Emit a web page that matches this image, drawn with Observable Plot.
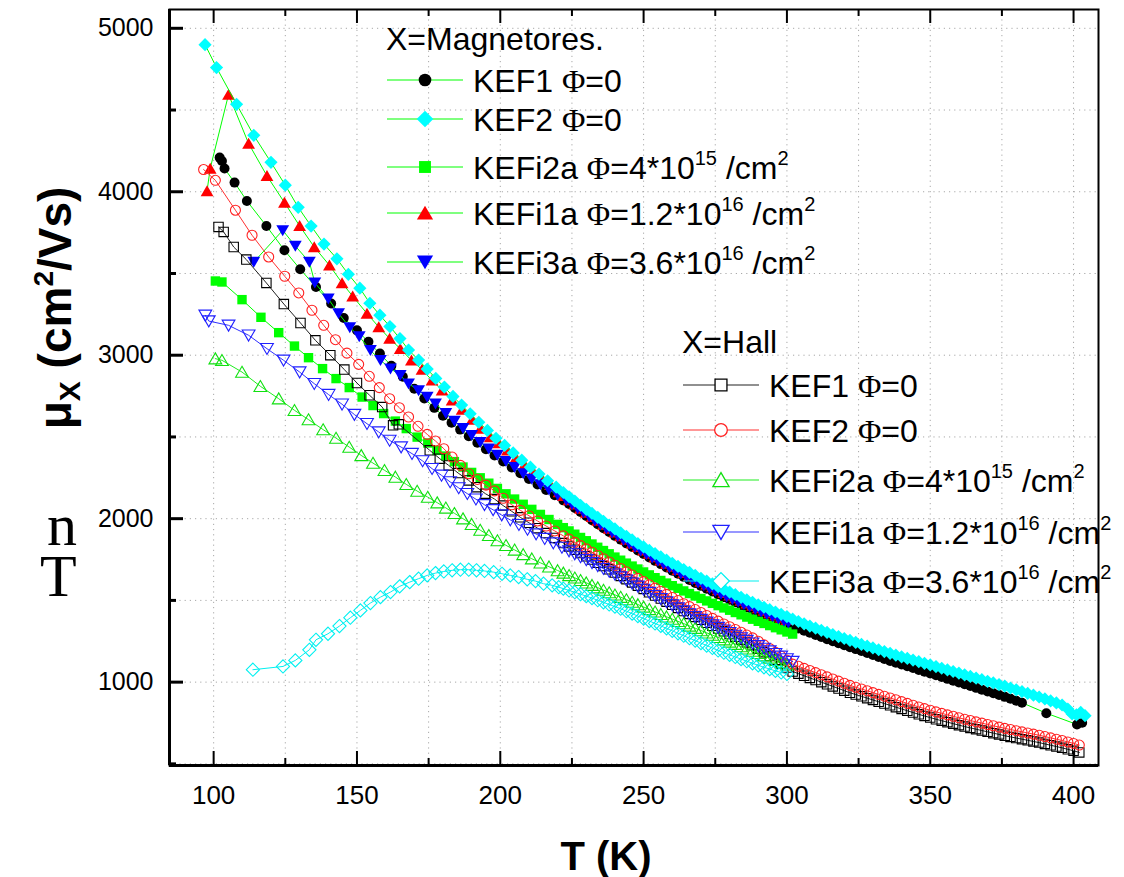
<!DOCTYPE html>
<html>
<head>
<meta charset="utf-8">
<script src="https://cdn.jsdelivr.net/npm/d3@7"></script>
<script src="https://cdn.jsdelivr.net/npm/@observablehq/plot@0.6"></script>
<style>
  html, body { margin: 0; padding: 0; background: #fff; }
  #chart { width: 1124px; height: 877px; overflow: hidden; }
</style>
</head>
<body>
<div id="chart"></div>
<script>
// Mobility vs temperature: magnetoresistance mobility (filled symbols) and Hall mobility (open symbols)
// Each series: [T (K), mobility (cm^2/Vs)]

const magKEF1 = [[102.1,4209],[102.9,4188],[103.8,4142],[107.3,4056],[111.6,3944],[118.4,3791],[124.7,3642],[130.2,3526],[135.7,3417],[141,3316],[145.4,3228],[150,3152],[154,3082],[158,3010],[162,2935],[166,2868],[170,2795],[173.5,2735],[177,2678],[180,2630],[183,2587],[186,2545],[189,2504],[192,2464],[195,2425],[198,2387],[201,2350],[204,2313],[207,2278],[210,2243],[213,2209],[216,2176],[219,2144],[222,2112],[224,2090],[226,2066],[228,2041],[230,2016],[232,1991],[234,1966],[236,1942],[238,1918],[240,1895],[242,1872],[244,1849],[246,1827],[248,1805],[250,1784],[252,1763],[254,1742],[256,1722],[258,1702],[260,1682],[262,1663],[264,1644],[266,1625],[268,1607],[270,1589],[272,1571],[274,1554],[276,1537],[278,1520],[280,1504],[282,1488],[284,1472],[286,1457],[288,1442],[290,1427],[292,1412],[294,1398],[296,1384],[298,1370],[300,1356],[302,1342],[304,1328],[306,1315],[308,1302],[310,1289],[312,1276],[314,1263],[316,1250],[318,1238],[320,1226],[322,1214],[324,1202],[326,1190],[328,1178],[330,1166],[332,1154],[334,1142],[336,1130],[338,1119],[340,1108],[342,1097],[344,1086],[346,1075],[348,1064],[350,1053],[352,1042],[354,1031],[356,1020],[358,1009],[360,998],[362,987],[364,976],[366,965],[368,954],[370,943],[372,932],[374,921],[376,910],[378,898],[380,886],[382,874],[390.5,810],[401.2,741],[403,752]];

const magKEF2 = [[97,4900],[101,4760],[108,4535],[114,4345],[120,4180],[125,4040],[129.5,3905],[134,3790],[138.5,3680],[143,3590],[147,3495],[151,3410],[154.5,3318],[158,3245],[161.5,3175],[165,3102],[168,3032],[171.5,2970],[174.5,2915],[177.5,2858],[180.5,2805],[183.5,2748],[186.5,2695],[189.5,2642],[192.5,2590],[195.5,2540],[198.5,2492],[201.5,2448],[204.5,2402],[207.5,2358],[210.5,2315],[213.5,2273],[216.5,2232],[219.5,2193],[222,2160],[224,2134],[226,2108],[228,2082],[230,2057],[232,2032],[234,2008],[236,1984],[238,1960],[240,1937],[242,1914],[244,1892],[246,1870],[248,1848],[250,1827],[252,1806],[254,1786],[256,1766],[258,1746],[260,1727],[262,1708],[264,1689],[266,1671],[268,1653],[270,1635],[272,1618],[274,1601],[276,1584],[278,1567],[280,1551],[282,1535],[284,1519],[286,1503],[288,1488],[290,1473],[292,1458],[294,1443],[296,1429],[298,1415],[300,1401],[302,1385],[304,1371],[306,1357],[308,1343],[310,1330],[312,1317],[314,1304],[316,1291],[318,1279],[320,1267],[322,1255],[324,1243],[326,1231],[328,1220],[330,1209],[332,1198],[334,1187],[336,1176],[338,1165],[340,1155],[342,1145],[344,1135],[346,1125],[348,1115],[350,1105],[352,1095],[354,1085],[356,1075],[358,1065],[360,1055],[362,1045],[364,1035],[366,1025],[368,1015],[370,1005],[372,995],[374,985],[376,975],[378,964],[380,953],[382,942],[384,931],[386,920],[388,909],[390,897],[392,885],[394,873],[396,860],[398,835],[399.5,805],[401,800],[402.5,815],[404,795]];

const magKEFi2a = [[100.6,3454],[102.9,3448],[109.9,3340],[116.5,3232],[122.7,3138],[128.2,3056],[133.1,2985],[138,2918],[142.7,2857],[147.3,2802],[151.8,2744],[155.6,2692],[159.3,2643],[163.4,2597],[167.2,2551],[171,2499],[174.7,2463],[177.9,2418],[181,2383],[184,2349],[187,2316],[190,2283],[193,2250],[196,2217],[199,2185],[202,2152],[205,2120],[208,2088],[211,2057],[214,2026],[217,1995],[220,1965],[222,1945],[224,1925],[226,1905],[228,1885],[230,1865],[232,1845],[234,1825],[236,1805],[238,1785],[240,1765],[242,1746],[244,1728],[246,1710],[248,1692],[250,1674],[252,1656],[254,1639],[256,1622],[258,1606],[260,1590],[262,1574],[264,1558],[266,1542],[268,1527],[270,1512],[272,1497],[274,1482],[276,1468],[278,1454],[280,1440],[282,1426],[284,1412],[286,1398],[288,1385],[290,1372],[292,1359],[294,1346],[296,1333],[298,1320],[300,1307],[302,1294]];

const magKEFi1a = [[97.7,4005],[98.8,4142],[105.2,4595],[112.2,4295],[118.6,4097],[124.7,3934],[130,3791],[135.1,3662],[140.4,3550],[144.8,3442],[148.5,3361],[153.5,3255],[157.6,3173],[161.4,3102],[165.1,3040],[169,2969],[172.7,2912],[176.2,2846],[179.7,2785],[183.2,2724],[186.7,2667],[190.2,2606],[193.1,2551],[196.5,2499],[199.5,2462],[202.5,2418],[205.5,2373],[208.5,2330],[211.5,2288],[214.5,2247],[217.5,2207],[220.5,2163],[222,2140],[224,2114],[226,2088],[228,2062],[230,2037],[232,2012],[234,1988],[236,1964],[238,1940],[240,1917],[242,1894],[244,1872],[246,1850],[248,1828],[250,1807],[252,1786],[254,1766],[256,1746],[258,1726],[260,1707],[262,1688],[264,1669],[266,1651],[268,1633],[270,1615],[272,1598],[274,1581],[276,1564],[278,1547],[280,1531],[282,1515],[284,1499],[286,1483],[288,1468],[290,1453],[292,1438],[294,1423],[296,1409],[298,1395],[300,1381]];

const magKEFi3a = [[114,3570],[124.1,3764],[128.5,3668],[133.4,3570],[135.3,3443],[140,3345],[143.6,3255],[147.5,3170],[150.8,3115],[154.7,3030],[158.2,2969],[161.7,2918],[165.1,2877],[168,2826],[171.5,2785],[174.5,2744],[177.4,2704],[181,2645],[184,2598],[187,2553],[190,2510],[193,2468],[196,2428],[199,2390],[202,2352],[205,2315],[208,2277],[211,2243],[214,2209],[217,2177],[220,2145],[223,2113],[225,2088],[227,2063],[229,2038],[231,2013],[233,1988],[235,1964],[237,1940],[239,1916],[241,1893],[243,1870],[245,1848],[247,1826],[249,1804],[251,1783],[253,1762],[255,1742],[257,1722],[259,1702],[261,1683],[263,1664],[265,1645],[267,1627],[269,1609],[271,1591],[273,1573],[275,1556],[277,1539],[279,1523],[281,1507],[283,1491],[285,1476],[287,1461],[289,1446],[291,1431],[293,1416],[295,1402],[297,1388],[299,1374],[300.5,1363]];

const hallKEF1 = [[101.7,3785],[103.5,3754],[107,3662],[111.4,3585],[118.4,3442],[124.5,3313],[130.3,3197],[135.5,3091],[140.7,3000],[145.6,2912],[150,2830],[154.4,2755],[158.8,2683],[162.6,2571],[164.6,2577],[175.4,2418],[178.9,2367],[182,2326],[185.3,2279],[189,2234],[191.7,2193],[194.8,2153],[198,2120],[201,2080],[204,2045],[207,2008],[210,1975],[213,1942],[216,1912],[219,1882],[222,1851],[224,1830],[226,1810],[228,1790],[230,1770],[232,1750],[234,1730],[236,1710],[238,1690],[240,1670],[242,1650],[244,1630],[246,1610],[248,1590],[250,1570],[252,1550],[254,1530],[256,1511],[258,1492],[260,1473],[262,1454],[264,1435],[266,1417],[268,1399],[270,1381],[272,1363],[274,1345],[276,1328],[278,1311],[280,1294],[282,1277],[284,1260],[286,1243],[288,1226],[290,1205],[292,1183],[294,1160],[296,1137],[298,1113],[300,1089],[302,1065],[304,1052],[306,1039],[308,1026],[310,1013],[312,1000],[314,987],[316,974],[318,961],[320,948],[322,935],[324,924],[326,913],[328,902],[330,891],[332,880],[334,869],[336,858],[338,847],[340,836],[342,825],[344,814],[346,803],[348,793],[350,783],[352,773],[354,764],[356,755],[358,746],[360,737],[362,728],[364,720],[366,712],[368,704],[370,696],[372,688],[374,680],[376,672],[378,665],[380,658],[382,651],[384,644],[386,637],[388,630],[390,622],[392,614],[394,606],[396,598],[398,589],[400,580],[402,570]];

const hallKEF2 = [[96.5,4136],[100.6,4070],[107.6,3887],[113.4,3734],[119.2,3601],[124.8,3483],[129.7,3381],[134.3,3275],[138.4,3183],[142.5,3095],[146.5,3013],[150.6,2944],[154.3,2871],[157.8,2802],[161.4,2734],[164.8,2679],[168,2622],[171.3,2565],[174.5,2516],[177.4,2475],[180.3,2428],[183.2,2377],[186.1,2326],[189,2275],[192,2240],[195,2205],[198,2170],[201,2125],[204,2085],[207,2051],[210,2018],[213,1986],[216,1955],[219,1925],[222,1895],[224,1875],[226,1855],[228,1835],[230,1815],[232,1795],[234,1775],[236,1755],[238,1735],[240,1715],[242,1695],[244,1675],[246,1655],[248,1635],[250,1615],[252,1595],[254,1575],[256,1556],[258,1537],[260,1518],[262,1499],[264,1480],[266,1462],[268,1444],[270,1426],[272,1408],[274,1390],[276,1373],[278,1356],[280,1339],[282,1322],[284,1305],[286,1288],[288,1271],[290,1250],[292,1228],[294,1205],[296,1182],[298,1158],[300,1134],[302,1110],[304,1097],[306,1084],[308,1071],[310,1058],[312,1045],[314,1032],[316,1019],[318,1006],[320,993],[322,980],[324,969],[326,958],[328,947],[330,936],[332,925],[334,914],[336,903],[338,892],[340,881],[342,870],[344,859],[346,848],[348,838],[350,828],[352,818],[354,809],[356,800],[358,791],[360,782],[362,773],[364,765],[366,757],[368,749],[370,741],[372,733],[374,725],[376,717],[378,710],[380,703],[382,696],[384,689],[386,682],[388,675],[390,667],[392,659],[394,651],[396,643],[398,634],[400,625],[402,615]];

const hallKEFi2a = [[100.6,2979],[102.9,2969],[109.9,2897],[116.3,2810],[122.7,2734],[128.2,2663],[133.1,2606],[138.2,2545],[142.7,2493],[147.3,2438],[151.5,2387],[155.6,2340],[159.6,2296],[163.4,2255],[167.2,2210],[171,2169],[174.7,2132],[178,2098],[181,2066],[184,2033],[187,2000],[190,1966],[193,1930],[196,1898],[199,1866],[202,1837],[205,1809],[208,1781],[211,1755],[214,1730],[217,1706],[220,1683],[222,1668],[224,1653],[226,1638],[228,1623],[230,1608],[232,1593],[234,1578],[236,1563],[238,1548],[240,1534],[242,1520],[244,1505],[246,1490],[248,1475],[250,1460],[252,1445],[254,1430],[256,1415],[258,1400],[260,1386],[262,1372],[264,1358],[266,1344],[268,1330],[270,1316],[272,1302],[274,1288],[276,1274],[278,1260],[280,1246],[282,1232],[284,1218],[286,1204],[288,1190],[290,1176],[292,1162],[294,1148],[296,1134],[298,1120],[300,1106]];

const hallKEFi1a = [[97.1,3244],[98.3,3209],[105.2,3183],[112.2,3122],[118.6,3040],[124.4,2969],[130,2897],[135.1,2826],[140.1,2759],[144.8,2700],[149.1,2637],[153.5,2581],[157.6,2530],[161.4,2479],[165.4,2438],[169.2,2398],[172.9,2353],[176.2,2306],[179.5,2265],[182.5,2225],[185.5,2188],[188.5,2153],[191.5,2119],[194.5,2085],[197.5,2054],[200.5,2022],[203.5,1992],[206.5,1963],[209.5,1934],[212.5,1906],[215.5,1878],[218.5,1851],[221.5,1824],[224,1802],[226,1784],[228,1766],[230,1748],[232,1730],[234,1712],[236,1694],[238,1677],[240,1660],[242,1643],[244,1624],[246,1605],[248,1586],[250,1567],[252,1548],[254,1529],[256,1510],[258,1491],[260,1472],[262,1453],[264,1435],[266,1417],[268,1400],[270,1383],[272,1366],[274,1350],[276,1334],[278,1318],[280,1302],[282,1286],[284,1270],[286,1254],[288,1238],[290,1222],[292,1206],[294,1190],[296,1174],[298,1158],[300,1142],[302,1126]];

const hallKEFi3a = [[113.7,1076],[124.2,1096],[128.5,1133],[133.4,1198],[135.7,1259],[139.9,1296],[143.9,1343],[147.7,1394],[151.2,1439],[154.7,1484],[158.2,1520],[161.7,1551],[164.9,1586],[168.4,1612],[171.5,1633],[174.5,1653],[177.4,1667],[180.3,1677],[183.2,1684],[186.1,1688],[189,1688],[191.7,1684],[194.5,1680],[197.7,1673],[200.6,1663],[203.5,1653],[206.4,1643],[209.4,1629],[212.3,1618],[215.1,1602],[218.1,1592],[220.4,1581],[222,1572],[224,1561],[226,1550],[228,1538],[230,1526],[232,1514],[234,1501],[236,1488],[238,1475],[240,1462],[242,1449],[244,1434],[246,1419],[248,1404],[250,1389],[252,1374],[254,1359],[256,1344],[258,1329],[260,1314],[262,1299],[264,1284],[266,1269],[268,1254],[270,1239],[272,1224],[274,1209],[276,1194],[278,1180],[280,1167],[282,1154],[284,1141],[286,1128],[288,1115],[290,1103],[292,1091],[294,1080],[296,1069],[298,1059],[300,1050]];

// Axis ticks and labels
const xMajor = [100, 150, 200, 250, 300, 350, 400];
const xMinor = [125, 175, 225, 275, 325, 375];
const yMajor = [1000, 2000, 3000, 4000, 5000];
const yMinor = [500, 1500, 2500, 3500, 4500];
const xDomain = [84.6, 408.7];
const yDomain = [490, 5115];

// Legend text
const magTitle = "X=Magnetores.";
const hallTitle = "X=Hall";
const legendLabels = [
  {name: "KEF1 ", value: "=0"},
  {name: "KEF2 ", value: "=0"},
  {name: "KEFi2a ", value: "=4*10", exp: "15"},
  {name: "KEFi1a ", value: "=1.2*10", exp: "16"},
  {name: "KEFi3a ", value: "=3.6*10", exp: "16"}
];

// Symbols drawn around the origin, scaled by the dot radius (nominal r = 5)
function polySymbol(pts) {
  return {
    draw(ctx, size) {
      const k = Math.sqrt(size / Math.PI) / 5;
      ctx.moveTo(pts[0][0] * k, pts[0][1] * k);
      for (let i = 1; i < pts.length; ++i) ctx.lineTo(pts[i][0] * k, pts[i][1] * k);
      ctx.closePath();
    }
  };
}
const symCircle = {
  draw(ctx, size) {
    const r = Math.sqrt(size / Math.PI);
    ctx.moveTo(r, 0);
    ctx.arc(0, 0, r, 0, 2 * Math.PI);
  }
};
const symSquare = polySymbol([[-4.7, -4.7], [4.7, -4.7], [4.7, 4.7], [-4.7, 4.7]]);
const symDiamond = polySymbol([[0, -6.6], [6.6, 0], [0, 6.6], [-6.6, 0]]);
const symTriUp = polySymbol([[0, -5.8], [6.4, 5.2], [-6.4, 5.2]]);
const symTriDown = polySymbol([[0, 5.8], [6.4, -5.2], [-6.4, -5.2]]);

const LIME = "#00ff00";
const magSeries = [
  {data: magKEF1, symbol: symCircle, color: "#000000"},
  {data: magKEF2, symbol: symDiamond, color: "#00ffff"},
  {data: magKEFi2a, symbol: symSquare, color: "#00ff00"},
  {data: magKEFi1a, symbol: symTriUp, color: "#ff0000"},
  {data: magKEFi3a, symbol: symTriDown, color: "#0000ff"}
];
const hallSeries = [
  {data: hallKEF1, symbol: symSquare, color: "#000000", line: "#222222"},
  {data: hallKEF2, symbol: symCircle, color: "#ff2020", line: "#ff3030"},
  {data: hallKEFi2a, symbol: symTriUp, color: "#10e010", line: "#20ee20"},
  {data: hallKEFi1a, symbol: symTriDown, color: "#2020ff", line: "#3030ff"},
  {data: hallKEFi3a, symbol: symDiamond, color: "#00f0f0", line: "#00f0f0"}
];
// Painting order of the filled series (black, green, red, blue, cyan)
const magOrder = [0, 2, 3, 4, 1];
const hallOrder = [0, 1, 2, 3, 4];

const W = 1124, H = 877;
const mTop = 9, mRight = 26, mBottom = 112, mLeft = 169;
const innerW = W - mLeft - mRight, innerH = H - mTop - mBottom;
const majLen = 14, minLen = 7;

const X = d => d[0], Y = d => d[1];
const seriesMarks = [];
for (const i of magOrder) {
  const s = magSeries[i];
  seriesMarks.push(Plot.line(s.data, {x: X, y: Y, stroke: LIME, strokeWidth: 1}));
  seriesMarks.push(Plot.dot(s.data, {x: X, y: Y, r: 5, symbol: s.symbol, fill: s.color, stroke: "none"}));
}
for (const i of hallOrder) {
  const s = hallSeries[i];
  seriesMarks.push(Plot.line(s.data, {x: X, y: Y, stroke: s.line, strokeWidth: 1}));
  seriesMarks.push(Plot.dot(s.data, {x: X, y: Y, r: 5, symbol: s.symbol, fill: "none", stroke: s.color, strokeWidth: 1.1}));
}

const fmt = d3.format("d");
const gridStyle = {stroke: "#a8a8a8", strokeOpacity: 1, strokeWidth: 1, strokeDasharray: "1.2,4"};
const chart = Plot.plot({
  width: W,
  height: H,
  marginTop: mTop, marginRight: mRight, marginBottom: mBottom, marginLeft: mLeft,
  x: {domain: xDomain},
  y: {domain: yDomain},
  style: {fontFamily: "'Liberation Sans', Arial, sans-serif", fontSize: "26px", background: "#ffffff", color: "#000000", overflow: "visible"},
  marks: [
    Plot.gridX([...xMajor, ...xMinor], gridStyle),
    Plot.gridY([...yMajor, ...yMinor], gridStyle),
    ...seriesMarks,
    // inward ticks: bottom, top, left
    Plot.tickX(xMajor, {x: d => d, insetTop: innerH - majLen, stroke: "#000", strokeWidth: 2}),
    Plot.tickX(xMinor, {x: d => d, insetTop: innerH - minLen, stroke: "#000", strokeWidth: 2}),
    Plot.tickX(xMajor, {x: d => d, insetBottom: innerH - majLen, stroke: "#000", strokeWidth: 2}),
    Plot.tickX(xMinor, {x: d => d, insetBottom: innerH - minLen, stroke: "#000", strokeWidth: 2}),
    Plot.tickY(yMajor, {y: d => d, insetRight: innerW - majLen, stroke: "#000", strokeWidth: 3}),
    Plot.tickY(yMinor, {y: d => d, insetRight: innerW - minLen, stroke: "#000", strokeWidth: 3}),
    Plot.axisX(xMajor, {tickSize: 0, tickPadding: 20, tickFormat: fmt, label: null, fontSize: 26}),
    Plot.axisY(yMajor, {tickSize: 0, tickPadding: 16, tickFormat: fmt, label: null, fontSize: 25}),
    Plot.frame({stroke: "#000", strokeWidth: 2}),
    Plot.ruleX([xDomain[0]], {stroke: "#000", strokeWidth: 3}),
    Plot.ruleY([yDomain[0]], {stroke: "#000", strokeWidth: 3})
  ]
});
document.getElementById("chart").appendChild(chart);

// Titles and legends drawn in the same SVG
const svg = d3.select(chart);
const FONT = "'Liberation Sans', Arial, sans-serif";
const SERIF = "'Liberation Serif', 'Times New Roman', serif";

// x title
svg.append("text")
  .attr("x", 606).attr("y", 870)
  .attr("text-anchor", "middle")
  .attr("font-family", FONT).attr("font-weight", "bold").attr("font-size", 40)
  .text("T (K)");

// y title
const yt = svg.append("text")
  .attr("transform", "translate(71,308) rotate(-90)")
  .attr("text-anchor", "middle")
  .attr("font-family", FONT).attr("font-weight", "bold").attr("font-size", 46);
yt.append("tspan").text("\u03bc");
yt.append("tspan").attr("font-size", 30).attr("dy", 9).text("X");
yt.append("tspan").attr("dy", -9).text(" (cm");
yt.append("tspan").attr("font-size", 28).attr("dy", -18).text("2");
yt.append("tspan").attr("dy", 18).text("/Vs)");

// serif letters at the left edge (two lines of one text)
const side = svg.append("text")
  .attr("text-anchor", "start")
  .attr("font-family", SERIF).attr("font-size", 60);
side.append("tspan").attr("x", 47).attr("y", 545).text("n");
side.append("tspan").attr("x", 40).attr("y", 596).text("T");

function legend(title, titleX, titleY, rows, series, lineColor) {
  const g = svg.append("g")
    .attr("font-family", FONT).attr("font-size", 32)
    .attr("text-anchor", "start");
  g.append("text").attr("x", titleX).attr("y", titleY).text(title);
  rows.forEach((ry, i) => {
    const s = series[i];
    const x0 = titleX + 1;
    g.append("line").attr("x1", x0).attr("x2", x0 + 76).attr("y1", ry).attr("y2", ry)
      .attr("stroke", lineColor || s.line).attr("stroke-width", 1.2);
    const path = d3.path();
    s.symbol.draw(path, Math.PI * 40);
    g.append("path").attr("d", path.toString())
      .attr("transform", `translate(${x0 + 38},${ry})`)
      .attr("fill", lineColor ? s.color : "#fff")
      .attr("stroke", lineColor ? "none" : s.color)
      .attr("stroke-width", 1.3);
    const lab = legendLabels[i];
    const t = g.append("text").attr("x", x0 + 86).attr("y", ry + 12);
    t.append("tspan").text(lab.name);
    t.append("tspan").attr("font-family", SERIF).text("\u03a6");
    t.append("tspan").text(lab.value);
    if (lab.exp) {
      t.append("tspan").attr("font-size", 20).attr("dy", -14).text(lab.exp);
      t.append("tspan").attr("dy", 14).text(" /cm");
      t.append("tspan").attr("font-size", 20).attr("dy", -14).text("2");
    }
  });
}
legend(magTitle, 386, 50, [80, 119, 167, 213, 262], magSeries, LIME);
legend(hallTitle, 682, 353, [385, 430, 480, 532, 581], hallSeries, null);

// keep the plot frame above the legend text
const frame = chart.querySelector('[aria-label="frame"]');
if (frame) chart.appendChild(frame);
</script>
</body>
</html>
